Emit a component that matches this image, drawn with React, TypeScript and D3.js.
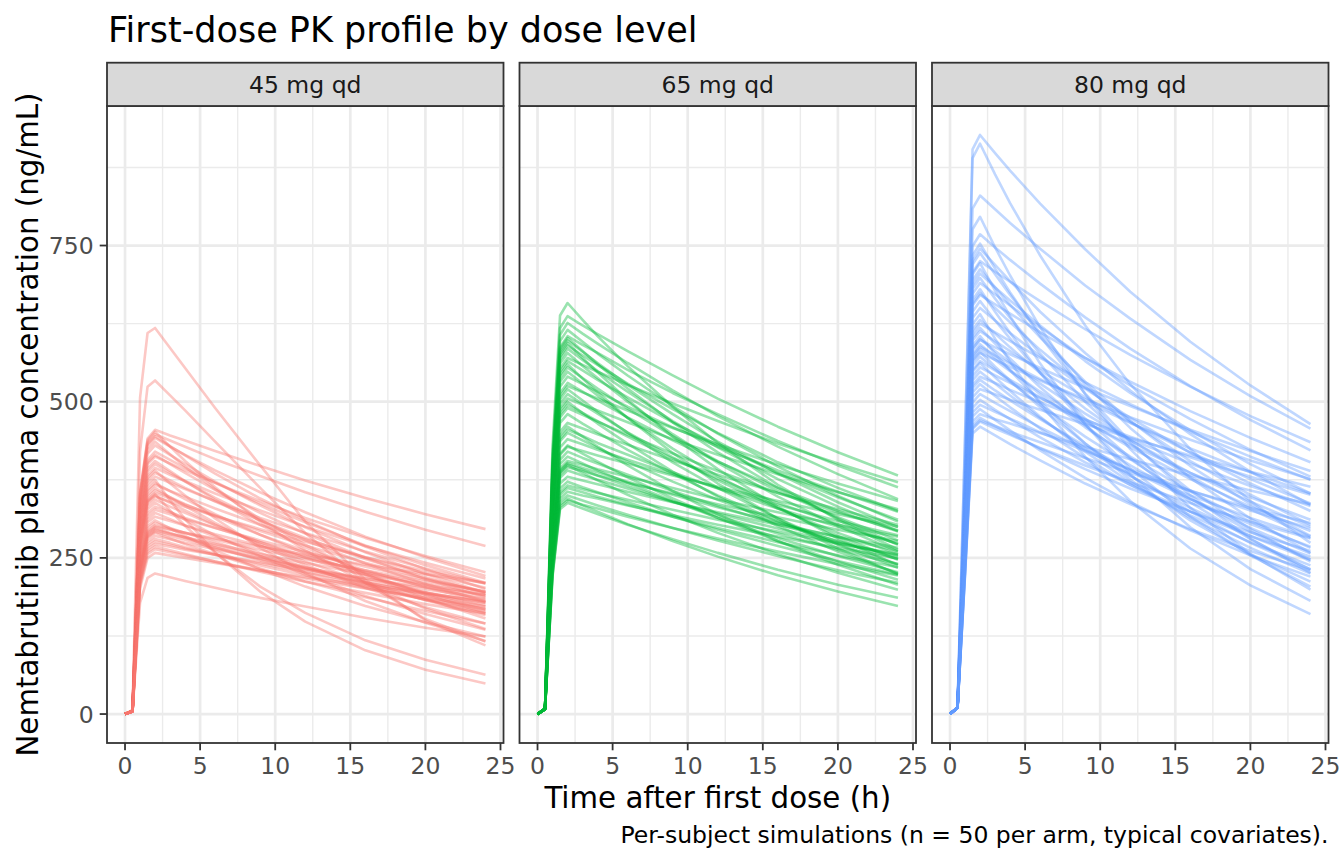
import React from "react";
import * as d3 from "d3";

// ---------------- data ----------------
const times = [0, 0.5, 1, 1.5, 2, 3, 4, 6, 9, 12, 16, 20, 24];
const doseLabels = ["45 mg qd", "65 mg qd", "80 mg qd"];
const armColors = ["#F8766D", "#00BA38", "#619CFF"];

const conc45: number[][] = [
  [0, 6, 506, 610, 618, 586, 554, 490, 398, 308, 215, 150, 110],
  [0, 5, 420, 524, 534, 510, 486, 436, 362, 290, 210, 152, 116],
  [0, 6, 355, 441, 455, 446, 438, 421, 397, 374, 346, 320, 296],
  [0, 6, 349, 435, 448, 438, 428, 408, 381, 355, 324, 295, 269],
  [0, 6, 353, 438, 452, 428, 405, 363, 308, 262, 210, 169, 136],
  [0, 6, 345, 429, 442, 428, 415, 390, 355, 323, 284, 251, 221],
  [0, 6, 340, 423, 436, 416, 396, 360, 312, 271, 224, 185, 153],
  [0, 6, 347, 432, 445, 429, 414, 385, 345, 310, 268, 232, 200],
  [0, 6, 335, 417, 430, 415, 400, 372, 334, 299, 259, 224, 194],
  [0, 6, 328, 407, 420, 407, 394, 370, 337, 307, 270, 238, 210],
  [0, 5, 324, 403, 415, 400, 386, 359, 322, 289, 250, 216, 187],
  [0, 5, 321, 400, 412, 401, 390, 370, 341, 314, 282, 253, 227],
  [0, 5, 316, 393, 405, 389, 373, 343, 303, 267, 226, 191, 162],
  [0, 5, 312, 388, 400, 386, 372, 346, 310, 278, 241, 208, 180],
  [0, 5, 307, 382, 394, 383, 373, 353, 326, 300, 269, 242, 217],
  [0, 5, 304, 378, 390, 369, 350, 313, 266, 226, 181, 146, 117],
  [0, 5, 301, 374, 386, 374, 362, 340, 310, 282, 248, 219, 193],
  [0, 5, 296, 369, 380, 370, 360, 341, 314, 290, 260, 233, 209],
  [0, 5, 293, 364, 375, 342, 312, 259, 196, 148, 102, 71, 49],
  [0, 5, 275, 341, 352, 326, 301, 258, 204, 162, 118, 87, 63],
  [0, 5, 289, 359, 370, 357, 344, 320, 287, 257, 223, 193, 167],
  [0, 5, 286, 356, 367, 357, 348, 329, 303, 280, 251, 225, 202],
  [0, 5, 282, 351, 362, 347, 333, 306, 270, 239, 202, 171, 145],
  [0, 5, 279, 347, 358, 347, 336, 316, 287, 261, 230, 203, 179],
  [0, 5, 276, 343, 354, 345, 335, 318, 293, 270, 242, 217, 195],
  [0, 5, 273, 340, 350, 338, 326, 303, 272, 244, 211, 182, 158],
  [0, 5, 271, 338, 348, 340, 332, 317, 296, 276, 251, 229, 209],
  [0, 5, 268, 333, 343, 332, 322, 302, 275, 250, 221, 195, 172],
  [0, 5, 264, 328, 338, 324, 311, 286, 253, 223, 189, 160, 135],
  [0, 5, 259, 322, 332, 323, 314, 298, 275, 253, 227, 204, 183],
  [0, 5, 255, 317, 327, 320, 312, 298, 278, 259, 236, 215, 196],
  [0, 5, 251, 312, 322, 312, 302, 284, 258, 235, 207, 183, 161],
  [0, 5, 246, 307, 316, 309, 302, 288, 269, 251, 228, 208, 190],
  [0, 4, 242, 301, 310, 297, 285, 262, 232, 204, 173, 147, 124],
  [0, 4, 239, 297, 306, 298, 290, 275, 253, 233, 209, 188, 168],
  [0, 4, 236, 293, 302, 296, 290, 279, 263, 248, 230, 212, 196],
  [0, 4, 232, 289, 298, 290, 282, 267, 246, 227, 204, 183, 164],
  [0, 4, 231, 287, 296, 289, 283, 270, 252, 235, 214, 195, 178],
  [0, 4, 229, 285, 294, 288, 283, 272, 256, 242, 224, 207, 191],
  [0, 4, 228, 283, 292, 285, 279, 266, 248, 232, 211, 192, 175],
  [0, 4, 226, 281, 290, 281, 272, 256, 233, 212, 187, 165, 145],
  [0, 4, 234, 291, 300, 295, 290, 281, 268, 255, 239, 224, 210],
  [0, 4, 222, 276, 285, 280, 274, 264, 249, 234, 217, 200, 185],
  [0, 4, 218, 272, 280, 274, 267, 255, 238, 222, 202, 184, 168],
  [0, 4, 215, 268, 276, 271, 265, 255, 241, 227, 210, 194, 179],
  [0, 4, 212, 264, 272, 268, 263, 255, 243, 231, 217, 203, 190],
  [0, 4, 209, 260, 268, 262, 256, 244, 228, 212, 194, 176, 161],
  [0, 4, 206, 256, 264, 259, 254, 244, 230, 217, 201, 186, 172],
  [0, 4, 201, 250, 258, 254, 250, 242, 230, 219, 206, 193, 181],
  [0, 4, 178, 218, 225, 219, 213, 202, 186, 172, 154, 138, 124],
];

const conc65: number[][] = [
  [0, 9, 428, 638, 658, 631, 605, 557, 492, 434, 367, 311, 263],
  [0, 9, 414, 618, 637, 622, 608, 581, 542, 505, 460, 419, 382],
  [0, 9, 407, 607, 626, 609, 593, 562, 518, 477, 428, 384, 344],
  [0, 9, 393, 587, 605, 591, 578, 551, 514, 480, 437, 398, 363],
  [0, 9, 391, 584, 602, 581, 560, 521, 467, 419, 362, 313, 271],
  [0, 9, 389, 580, 598, 580, 562, 527, 480, 436, 385, 339, 299],
  [0, 9, 386, 576, 594, 570, 547, 503, 444, 392, 332, 281, 238],
  [0, 9, 384, 572, 590, 574, 559, 529, 488, 450, 403, 362, 325],
  [0, 9, 376, 561, 578, 557, 538, 500, 448, 402, 348, 301, 260],
  [0, 9, 371, 553, 570, 559, 548, 527, 497, 469, 433, 401, 371],
  [0, 9, 364, 543, 560, 537, 515, 474, 418, 369, 313, 265, 224],
  [0, 9, 361, 538, 555, 538, 521, 489, 445, 405, 357, 315, 278],
  [0, 9, 356, 532, 548, 529, 510, 474, 425, 381, 330, 285, 247],
  [0, 9, 351, 524, 540, 528, 516, 492, 459, 428, 390, 356, 324],
  [0, 9, 345, 514, 530, 516, 502, 475, 438, 404, 362, 325, 292],
  [0, 8, 338, 504, 520, 502, 484, 450, 403, 362, 313, 271, 234],
  [0, 8, 333, 497, 512, 496, 481, 451, 411, 374, 329, 290, 256],
  [0, 8, 328, 490, 505, 495, 486, 467, 440, 415, 384, 355, 328],
  [0, 8, 325, 485, 500, 482, 465, 433, 388, 348, 301, 260, 225],
  [0, 8, 322, 480, 495, 482, 469, 444, 409, 377, 338, 304, 272],
  [0, 8, 319, 475, 490, 479, 468, 447, 417, 389, 354, 323, 294],
  [0, 8, 312, 466, 480, 465, 451, 423, 385, 350, 309, 272, 240],
  [0, 8, 303, 452, 466, 457, 448, 431, 406, 383, 354, 328, 303],
  [0, 8, 299, 446, 460, 444, 428, 398, 357, 320, 277, 239, 207],
  [0, 8, 296, 441, 455, 445, 434, 415, 387, 361, 329, 300, 273],
  [0, 8, 293, 437, 450, 438, 426, 404, 372, 343, 308, 276, 248],
  [0, 8, 286, 427, 440, 432, 423, 407, 384, 362, 335, 309, 286],
  [0, 8, 280, 417, 430, 417, 404, 379, 345, 314, 277, 244, 215],
  [0, 8, 278, 415, 428, 421, 414, 401, 382, 364, 341, 320, 300],
  [0, 8, 273, 407, 420, 410, 401, 383, 357, 333, 304, 277, 252],
  [0, 8, 268, 400, 412, 401, 390, 370, 341, 314, 282, 253, 227],
  [0, 8, 263, 393, 405, 399, 392, 380, 362, 344, 323, 303, 284],
  [0, 8, 261, 390, 402, 394, 387, 372, 351, 331, 306, 283, 261],
  [0, 8, 260, 388, 400, 391, 382, 365, 340, 317, 289, 263, 240],
  [0, 8, 259, 386, 398, 386, 374, 351, 319, 290, 256, 226, 199],
  [0, 8, 257, 383, 395, 389, 382, 370, 353, 336, 315, 295, 277],
  [0, 8, 254, 378, 390, 382, 375, 361, 340, 321, 297, 274, 254],
  [0, 8, 247, 369, 380, 374, 368, 356, 339, 323, 303, 284, 266],
  [0, 8, 242, 361, 372, 363, 355, 339, 316, 295, 269, 245, 223],
  [0, 8, 238, 355, 366, 360, 354, 343, 327, 311, 292, 273, 256],
  [0, 8, 235, 351, 362, 355, 348, 335, 316, 298, 275, 254, 235],
  [0, 8, 231, 345, 356, 350, 345, 334, 318, 303, 284, 266, 249],
  [0, 8, 228, 340, 350, 342, 334, 319, 298, 278, 253, 230, 210],
  [0, 8, 224, 335, 345, 334, 324, 304, 277, 252, 222, 196, 173],
  [0, 8, 222, 332, 342, 335, 329, 316, 298, 281, 260, 240, 222],
  [0, 8, 220, 328, 338, 329, 320, 303, 280, 258, 231, 207, 186],
  [0, 9, 380, 567, 585, 567, 549, 516, 469, 427, 376, 332, 293],
  [0, 9, 400, 597, 615, 596, 577, 542, 493, 449, 396, 349, 308],
  [0, 9, 367, 548, 565, 550, 535, 507, 467, 431, 386, 347, 311],
  [0, 8, 341, 509, 525, 515, 505, 486, 458, 432, 399, 369, 341],
];

const conc80: number[][] = [
  [0, 11, 445, 904, 927, 898, 870, 817, 744, 676, 596, 526, 464],
  [0, 11, 438, 890, 913, 864, 818, 734, 622, 528, 424, 341, 274],
  [0, 10, 398, 809, 830, 808, 786, 745, 686, 633, 567, 509, 457],
  [0, 10, 382, 776, 796, 747, 702, 619, 512, 424, 330, 256, 199],
  [0, 10, 369, 749, 768, 747, 727, 689, 635, 585, 525, 471, 422],
  [0, 10, 361, 734, 753, 713, 675, 605, 513, 436, 350, 281, 226],
  [0, 10, 358, 726, 745, 719, 693, 644, 578, 518, 448, 388, 335],
  [0, 10, 354, 720, 738, 704, 671, 610, 528, 458, 378, 313, 258],
  [0, 10, 348, 707, 725, 708, 692, 661, 616, 575, 524, 477, 435],
  [0, 10, 347, 704, 722, 678, 637, 561, 464, 384, 299, 232, 181],
  [0, 10, 342, 694, 712, 683, 655, 603, 532, 469, 397, 336, 285],
  [0, 10, 338, 687, 705, 683, 662, 622, 565, 514, 454, 400, 353],
  [0, 10, 335, 681, 698, 665, 634, 577, 500, 433, 358, 296, 244],
  [0, 10, 331, 673, 690, 672, 654, 619, 570, 526, 472, 423, 380],
  [0, 10, 326, 663, 680, 644, 610, 546, 464, 393, 316, 254, 204],
  [0, 10, 324, 657, 674, 650, 627, 583, 523, 469, 405, 351, 303],
  [0, 10, 322, 654, 671, 656, 641, 611, 570, 532, 485, 442, 403],
  [0, 10, 317, 644, 661, 630, 601, 546, 473, 410, 339, 280, 231],
  [0, 10, 312, 634, 650, 630, 610, 573, 521, 474, 418, 369, 325],
  [0, 10, 307, 624, 640, 601, 564, 497, 412, 341, 265, 206, 160],
  [0, 10, 303, 615, 631, 609, 587, 546, 489, 439, 380, 328, 284],
  [0, 10, 300, 609, 625, 611, 597, 570, 531, 496, 452, 412, 375],
  [0, 10, 297, 603, 618, 593, 569, 523, 462, 408, 345, 292, 247],
  [0, 10, 294, 598, 613, 597, 581, 550, 507, 467, 419, 376, 337],
  [0, 10, 290, 590, 605, 577, 550, 500, 433, 375, 310, 256, 212],
  [0, 10, 288, 584, 599, 587, 576, 554, 522, 493, 455, 421, 389],
  [0, 10, 284, 577, 592, 571, 551, 512, 459, 412, 356, 308, 266],
  [0, 10, 281, 570, 585, 567, 549, 516, 469, 427, 376, 332, 293],
  [0, 10, 278, 566, 580, 556, 534, 491, 433, 382, 324, 274, 232],
  [0, 10, 277, 564, 578, 567, 556, 534, 504, 475, 439, 406, 376],
  [0, 10, 275, 558, 572, 552, 532, 495, 444, 398, 344, 298, 257],
  [0, 10, 271, 551, 565, 550, 535, 507, 467, 431, 386, 347, 311],
  [0, 10, 270, 548, 562, 539, 517, 476, 420, 371, 314, 266, 225],
  [0, 10, 266, 541, 555, 542, 530, 506, 472, 440, 401, 365, 333],
  [0, 10, 263, 534, 548, 529, 510, 474, 425, 381, 330, 285, 247],
  [0, 10, 259, 527, 540, 530, 519, 499, 471, 444, 411, 380, 351],
  [0, 10, 257, 522, 535, 518, 502, 472, 429, 390, 344, 304, 268],
  [0, 10, 253, 515, 528, 509, 491, 457, 410, 367, 318, 275, 238],
  [0, 10, 250, 507, 520, 512, 503, 487, 464, 442, 414, 388, 364],
  [0, 10, 246, 499, 512, 498, 485, 459, 423, 390, 350, 314, 282],
  [0, 10, 241, 490, 503, 487, 472, 443, 403, 367, 324, 285, 252],
  [0, 10, 238, 483, 495, 484, 473, 451, 421, 392, 358, 326, 297],
  [0, 10, 234, 476, 488, 471, 454, 422, 378, 339, 294, 254, 220],
  [0, 10, 230, 468, 480, 472, 465, 450, 428, 408, 382, 358, 336],
  [0, 10, 228, 462, 474, 461, 449, 425, 392, 361, 324, 291, 261],
  [0, 10, 225, 456, 468, 457, 447, 426, 398, 371, 338, 308, 281],
  [0, 10, 221, 449, 460, 446, 432, 406, 369, 336, 296, 261, 230],
  [0, 10, 226, 458, 470, 461, 452, 435, 410, 386, 357, 330, 306],
  [0, 10, 288, 585, 600, 581, 563, 529, 481, 438, 386, 340, 300],
  [0, 10, 282, 573, 588, 574, 561, 536, 500, 466, 425, 387, 353],
];

const xMajorTicks = [0, 5, 10, 15, 20, 25];
const xMinorTicks = [2.5, 7.5, 12.5, 17.5, 22.5];
const yMajorTicks = [0, 250, 500, 750];
const yMinorTicks = [125, 375, 625, 875];

const titleText = "First-dose PK profile by dose level";
const xTitle = "Time after first dose (h)";
const yTitle = "Nemtabrutinib plasma concentration (ng/mL)";
const captionText = "Per-subject simulations (n = 50 per arm, typical covariates).";

// ---------------- layout ----------------
const W = 1344;
const H = 864;
const PANEL_X0 = 107;
const PANEL_W = 396.5;
const PANEL_GAP = 16;
const STRIP_TOP = 62.7;
const PANEL_TOP = 106;
const PANEL_BOTTOM = 743;
const FONT = "'DejaVu Sans', Verdana, sans-serif";

export default function App() {
  const arms = [conc45, conc65, conc80];

  const xMax = d3.max(times) as number;
  const xMin = d3.min(times) as number;
  const xPad = (xMax - xMin) * 0.05;
  const yMaxData = d3.max(arms.flat(2)) as number;
  const yMinData = d3.min(arms.flat(2)) as number;
  const yPad = (yMaxData - yMinData) * 0.05;

  const yScale = d3
    .scaleLinear()
    .domain([yMinData - yPad, yMaxData + yPad])
    .range([PANEL_BOTTOM, PANEL_TOP]);

  const panels = doseLabels.map((label, i) => {
    const x0 = PANEL_X0 + i * (PANEL_W + PANEL_GAP);
    const xScale = d3
      .scaleLinear()
      .domain([xMin - xPad, xMax + xPad])
      .range([x0, x0 + PANEL_W]);
    const line = d3
      .line<number>()
      .x((_, j) => xScale(times[j]))
      .y((d) => yScale(d));
    return { label, x0, xScale, line, data: arms[i], color: armColors[i] };
  });

  const gridCol = "#EBEBEB";
  const darkCol = "#333333";

  return (
    <svg
      width={W}
      height={H}
      viewBox={`0 0 ${W} ${H}`}
      style={{ position: "absolute", left: 0, top: 0, display: "block", background: "#fff" }}
      fontFamily={FONT}
    >
      <rect x={0} y={0} width={W} height={H} fill="#ffffff" />
      <text x={108} y={41.5} fontSize={35} fill="#000">
        {titleText}
      </text>

      {panels.map((p, i) => (
        <g key={p.label}>
          <defs>
            <clipPath id={`clip${i}`}>
              <rect x={p.x0} y={PANEL_TOP} width={PANEL_W} height={PANEL_BOTTOM - PANEL_TOP} />
            </clipPath>
          </defs>
          <rect x={p.x0} y={PANEL_TOP} width={PANEL_W} height={PANEL_BOTTOM - PANEL_TOP} fill="#fff" />
          {/* minor grid */}
          {xMinorTicks.map((t) => (
            <line key={"xm" + t} x1={p.xScale(t)} x2={p.xScale(t)} y1={PANEL_TOP} y2={PANEL_BOTTOM} stroke={gridCol} strokeWidth={1.4} />
          ))}
          {yMinorTicks.map((t) => (
            <line key={"ym" + t} x1={p.x0} x2={p.x0 + PANEL_W} y1={yScale(t)} y2={yScale(t)} stroke={gridCol} strokeWidth={1.4} />
          ))}
          {/* major grid */}
          {xMajorTicks.map((t) => (
            <line key={"xM" + t} x1={p.xScale(t)} x2={p.xScale(t)} y1={PANEL_TOP} y2={PANEL_BOTTOM} stroke={gridCol} strokeWidth={2.7} />
          ))}
          {yMajorTicks.map((t) => (
            <line key={"yM" + t} x1={p.x0} x2={p.x0 + PANEL_W} y1={yScale(t)} y2={yScale(t)} stroke={gridCol} strokeWidth={2.7} />
          ))}
          {/* subject lines */}
          <g clipPath={`url(#clip${i})`}>
            {p.data.map((row, k) => (
              <path
                key={k}
                d={p.line(row) || ""}
                fill="none"
                stroke={p.color}
                strokeWidth={2.6}
                strokeOpacity={0.4}
                strokeLinejoin="round"
                strokeLinecap="butt"
              />
            ))}
          </g>
          {/* panel border */}
          <rect x={p.x0} y={PANEL_TOP} width={PANEL_W} height={PANEL_BOTTOM - PANEL_TOP} fill="none" stroke={darkCol} strokeWidth={1.8} />
          {/* strip */}
          <rect x={p.x0} y={STRIP_TOP} width={PANEL_W} height={PANEL_TOP - STRIP_TOP} fill="#D9D9D9" stroke={darkCol} strokeWidth={1.8} />
          <text x={p.x0 + PANEL_W / 2} y={92.8} fontSize={23.5} fill="#1A1A1A" textAnchor="middle">
            {p.label}
          </text>
          {/* x axis ticks */}
          {xMajorTicks.map((t) => (
            <g key={"xt" + t}>
              <line x1={p.xScale(t)} x2={p.xScale(t)} y1={PANEL_BOTTOM} y2={PANEL_BOTTOM + 7.3} stroke={darkCol} strokeWidth={1.8} />
              <text x={p.xScale(t)} y={774} fontSize={23.5} fill="#4D4D4D" textAnchor="middle">
                {t}
              </text>
            </g>
          ))}
        </g>
      ))}

      {/* y axis ticks on first panel */}
      {yMajorTicks.map((t) => (
        <g key={"yt" + t}>
          <line x1={PANEL_X0 - 7.3} x2={PANEL_X0} y1={yScale(t)} y2={yScale(t)} stroke={darkCol} strokeWidth={1.8} />
          <text x={PANEL_X0 - 13.3} y={yScale(t)} dy="0.36em" fontSize={23.5} fill="#4D4D4D" textAnchor="end">
            {t}
          </text>
        </g>
      ))}

      <text x={(PANEL_X0 + PANEL_X0 + 3 * PANEL_W + 2 * PANEL_GAP) / 2} y={807.5} fontSize={29.3} fill="#000" textAnchor="middle">
        {xTitle}
      </text>
      <text
        transform={`translate(37.5, ${(PANEL_TOP + PANEL_BOTTOM) / 2}) rotate(-90)`}
        fontSize={29.3}
        fill="#000"
        textAnchor="middle"
      >
        {yTitle}
      </text>
      <text x={PANEL_X0 + 3 * PANEL_W + 2 * PANEL_GAP} y={843} fontSize={23.5} fill="#000" textAnchor="end">
        {captionText}
      </text>
    </svg>
  );
}
